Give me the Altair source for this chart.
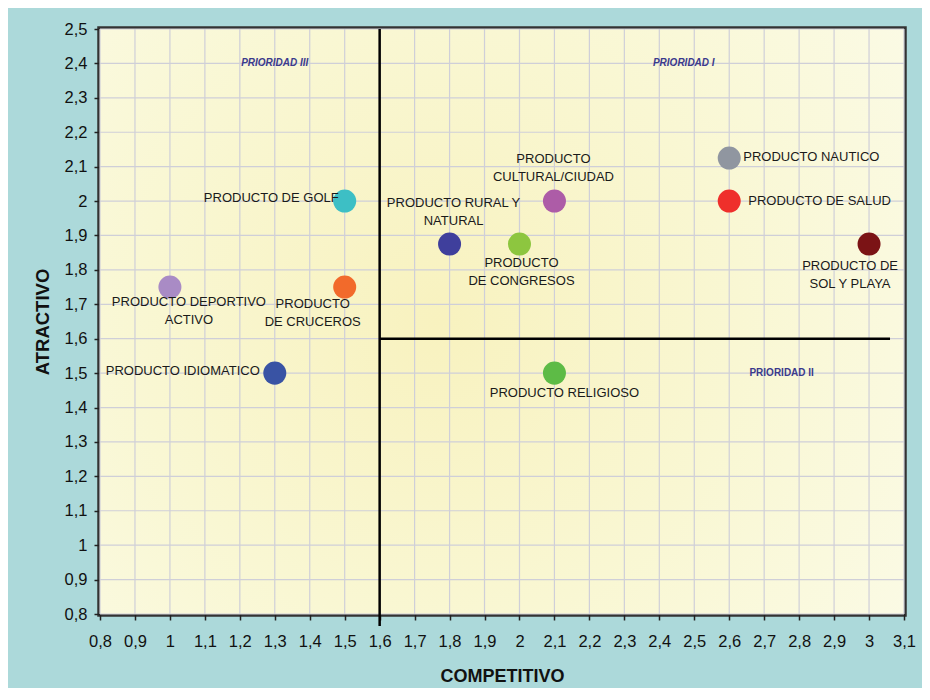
import altair as alt
import pandas as pd

# ---------------- data ----------------
NAMES = ["golf", "rural", "cultural", "congresos", "nautico", "salud",
         "sol", "deportivo", "cruceros", "idiomatico", "religioso"]
LABELS = ["PRODUCTO DE GOLF", "PRODUCTO RURAL  Y\nNATURAL", "PRODUCTO\nCULTURAL/CIUDAD",
          "PRODUCTO\nDE CONGRESOS", "PRODUCTO NAUTICO", "PRODUCTO DE SALUD",
          "PRODUCTO DE\nSOL Y PLAYA", "PRODUCTO DEPORTIVO\nACTIVO", "PRODUCTO\nDE CRUCEROS",
          "PRODUCTO IDIOMATICO", "PRODUCTO RELIGIOSO"]
COMPETITIVO = [1.5, 1.8, 2.1, 2.0, 2.6, 2.6, 3.0, 1.0, 1.5, 1.3, 2.1]
ATRACTIVO = [2.0, 1.875, 2.0, 1.875, 2.125, 2.0, 1.875, 1.75, 1.75, 1.5, 1.5]
COLORS = ["#3dbfc5", "#3f3f9c", "#ad5ca7", "#8dc63f", "#9096a0", "#ef2f2b",
          "#7b1315", "#a98bc5", "#f26a2b", "#3953a4", "#5dbb46"]

X_TICKS = [0.8, 0.9, 1.0, 1.1, 1.2, 1.3, 1.4, 1.5, 1.6, 1.7, 1.8, 1.9, 2.0, 2.1,
           2.2, 2.3, 2.4, 2.5, 2.6, 2.7, 2.8, 2.9, 3.0, 3.1]
Y_TICKS = [0.8, 0.9, 1.0, 1.1, 1.2, 1.3, 1.4, 1.5, 1.6, 1.7, 1.8, 1.9, 2.0, 2.1,
           2.2, 2.3, 2.4, 2.5]

QUADRANT_X = 1.6
QUADRANT_Y = 1.6
QUADRANT_X_END = 3.06

PRIORIDAD_TEXT = ["PRIORIDAD III", "PRIORIDAD I", "PRIORIDAD II"]
PRIORIDAD_X = [1.3, 2.47, 2.75]
PRIORIDAD_Y = [2.4, 2.4, 1.5]

# ---------------- layout / style ----------------
W, H = 804, 585
FONT = "Liberation Sans"

# label placement per product: align, dx, dy (dy = offset of first line, baseline middle)
LABEL_LAYOUT = {
    "golf": ("right", -6, -3),
    "rural": ("center", 4, -41),
    "cultural": ("center", -1, -42),
    "congresos": ("center", 2, 19),
    "nautico": ("left", 14, -1),
    "salud": ("left", 19, 0),
    "sol": ("center", -19, 22),
    "deportivo": ("center", 19, 15),
    "cruceros": ("center", -32, 17),
    "idiomatico": ("right", -15, -2),
    "religioso": ("center", 10, 20),
}

df = pd.DataFrame({"name": NAMES, "label": LABELS, "x": COMPETITIVO, "y": ATRACTIVO})

label_expr = "replace(format(datum.value, '.2~f'), '.', ',')"

X = alt.X("x:Q",
          scale=alt.Scale(domain=[0.8, 3.1], nice=False, zero=False),
          axis=alt.Axis(values=X_TICKS, grid=False, domain=False, tickSize=6, tickWidth=1.5,
                        tickColor="#222222", labelExpr=label_expr, labelFont=FONT,
                        labelFontSize=16.5, labelColor="#111111", labelPadding=13,
                        labelFlush=False, labelOverlap=False,
                        title="COMPETITIVO", titleFont=FONT, titleFontSize=18,
                        titleFontWeight="bold", titleColor="#111111", titlePadding=18))
Y = alt.Y("y:Q",
          scale=alt.Scale(domain=[0.8, 2.5], nice=False, zero=False),
          axis=alt.Axis(values=Y_TICKS, grid=False, domain=False, tickSize=6, tickWidth=1.5,
                        tickColor="#222222", labelExpr=label_expr, labelFont=FONT,
                        labelFontSize=16.5, labelColor="#111111", labelPadding=7,
                        labelFlush=False, labelOverlap=False,
                        title="ATRACTIVO", titleFont=FONT, titleFontSize=18.5,
                        titleFontWeight="bold", titleColor="#111111", titlePadding=12))

gradient = {
    "gradient": "radial",
    "x1": 0.42, "y1": 0.5, "r1": 0,
    "x2": 0.42, "y2": 0.5, "r2": 0.75,
    "stops": [
        {"offset": 0, "color": "#f8f2bf"},
        {"offset": 0.5, "color": "#f9f7d3"},
        {"offset": 1, "color": "#fbfbe8"},
    ],
}

bg = alt.Chart(pd.DataFrame({"a": [0]})).mark_rect(fill=gradient).encode(
    x=alt.value(0), x2=alt.value(W), y=alt.value(0), y2=alt.value(H))

vgrid = alt.Chart(pd.DataFrame({"x": X_TICKS})).mark_rule(
    color="#cfcfd8", strokeWidth=1.2).encode(x=X)
hgrid = alt.Chart(pd.DataFrame({"y": Y_TICKS})).mark_rule(
    color="#cfcfd8", strokeWidth=1.2).encode(y=Y)

vline = alt.Chart(pd.DataFrame({"x": [QUADRANT_X]})).mark_rule(
    color="#000000", strokeWidth=2.5).encode(x=X, y=alt.value(0), y2=alt.value(H + 12))
hline = alt.Chart(pd.DataFrame({"x": [QUADRANT_X], "x2": [QUADRANT_X_END],
                                "y": [QUADRANT_Y]})).mark_rule(
    color="#000000", strokeWidth=2.5).encode(x=X, x2="x2:Q", y=Y)

points = alt.Chart(df).mark_circle(size=530, opacity=1).encode(
    x=X, y=Y,
    color=alt.Color("name:N", scale=alt.Scale(domain=NAMES, range=COLORS), legend=None))

label_layers = []
for name in NAMES:
    align, dx, dy = LABEL_LAYOUT[name]
    label_layers.append(
        alt.Chart(df).transform_filter(alt.datum.name == name).mark_text(
            align=align, baseline="middle", dx=dx, dy=dy, font=FONT, fontSize=13,
            color="#1a1a1a", lineBreak="\n", lineHeight=18
        ).encode(x=X, y=Y, text="label:N"))

pdf = pd.DataFrame({"t": PRIORIDAD_TEXT, "x": PRIORIDAD_X, "y": PRIORIDAD_Y,
                    "italic": ["italic", "italic", "normal"]})
prio_it = alt.Chart(pdf).transform_filter(alt.datum.italic == "italic").mark_text(
    font=FONT, fontSize=10, fontWeight="bold", fontStyle="italic", color="#3b3a8c",
    align="center", baseline="middle").encode(x=X, y=Y, text="t:N")
prio_n = alt.Chart(pdf).transform_filter(alt.datum.italic == "normal").mark_text(
    font=FONT, fontSize=10, fontWeight="bold", color="#3b3a8c",
    align="center", baseline="middle").encode(x=X, y=Y, text="t:N")

chart = alt.layer(bg, vgrid, hgrid, vline, hline, points, *label_layers, prio_it, prio_n).properties(
    width=W, height=H,
    autosize=alt.AutoSizeParams(type="none"),
    padding={"left": 92, "top": 21, "right": 18, "bottom": 74},
    background="#acd9da",
).configure_view(stroke="#333333", strokeWidth=5.5)

chart.save("out.html", embed_options={"renderer": "svg", "actions": False})
